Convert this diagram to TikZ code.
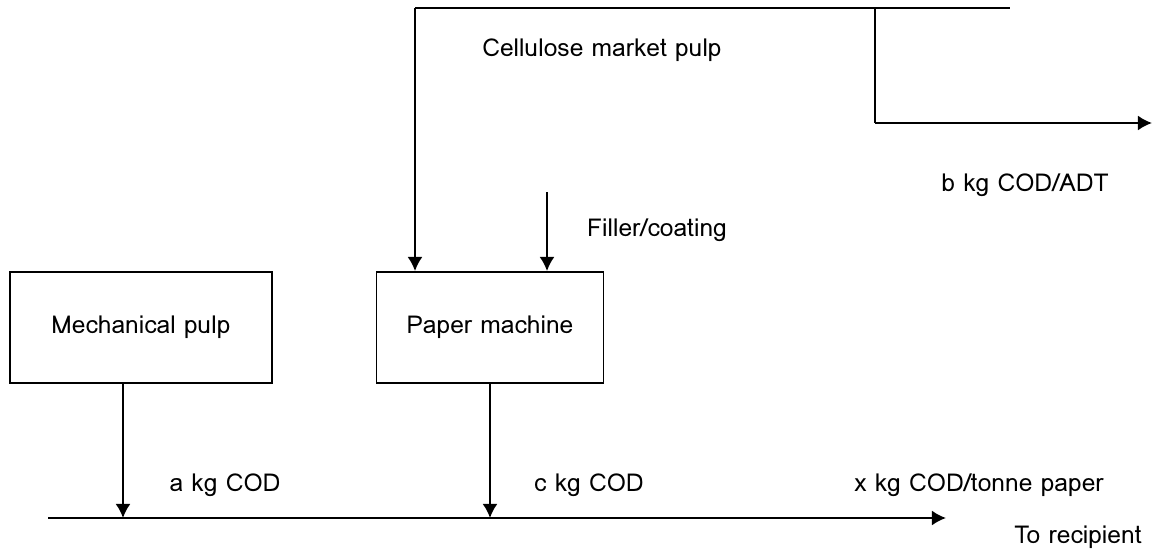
\documentclass[tikz,border=0pt]{standalone}
\usepackage{fontspec}
\setmainfont{Loma}
\usetikzlibrary{arrows,arrows.meta}
\tikzset{
    box/.style={draw,line width=1.1pt,minimum height=2.22cm,inner sep=0pt},
    flow/.style={-{Latex[length=8pt,width=8.5pt]},line width=1.1pt},
    lbl/.style={font=\fontsize{14}{16}\selectfont},
}

\begin{document}
\begin{tikzpicture}[x=0.02cm,y=-0.02cm]
\useasboundingbox (0,0) rectangle (1164,555);
% boxes
\node[box,lbl,minimum width=5.24cm] (mech) at (141,327.5) {Mechanical pulp};
\node[box,lbl,minimum width=4.54cm] (pm) at (490,327.5) {Paper machine};
% cellulose line
\coordinate (cl) at (415,8);
\coordinate (cr) at (1010,8);
\coordinate (cj) at (875,8);
\coordinate (cb) at (875,123);
\coordinate (cout) at (1152,123);
\draw[line width=1.6pt] (cl) -- (cr);
\draw[flow] (cl) -- (cl |- pm.north);
\draw[line width=1.1pt] (cj) -- (cb);
\draw[flow] (cb) -- (cout);
% filler
\coordinate (fill) at (547,192);
\draw[flow] (fill) -- (fill |- pm.north);
% effluent
\coordinate (el) at (48,518);
\coordinate (er) at (946,518);
\draw[flow] (el) -- (er);
\draw[flow] (mech.south -| 123,0) -- (123,518);
\draw[flow] (pm.south) -- (pm.south |- el);
% labels
\node[lbl] (cell) at (602,50) {Cellulose market pulp};
\node[lbl] (bkg) at (1025,185) {b kg COD/ADT};
\node[lbl] (fc) at (657,230) {Filler/coating};
\node[lbl] (akg) at (225,485) {a kg COD};
\node[lbl] (ckg) at (589,485) {c kg COD};
\node[lbl] (xkg) at (979,485) {x kg COD/tonne paper};
\node[lbl] (rec) at (1078,537) {To recipient};
\end{tikzpicture}
\end{document}
